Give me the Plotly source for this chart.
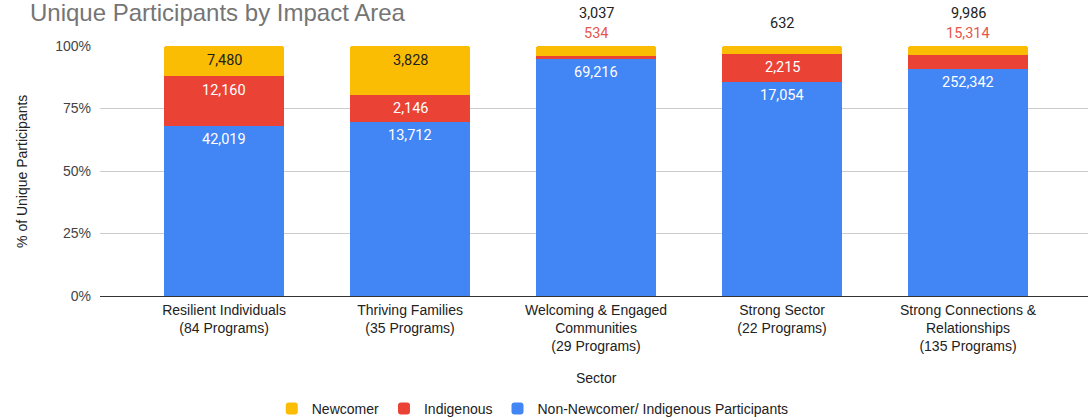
import plotly.graph_objects as go

categories = [
    "Resilient Individuals<br>(84 Programs)",
    "Thriving Families<br>(35 Programs)",
    "Welcoming & Engaged<br>Communities<br>(29 Programs)",
    "Strong Sector<br>(22 Programs)",
    "Strong Connections &<br>Relationships<br>(135 Programs)",
]
non_newcomer = [42019, 13712, 69216, 17054, 252342]
indigenous = [12160, 2146, 534, 2215, 15314]
newcomer = [7480, 3828, 3037, 632, 9986]
y_ticks = [0, 25, 50, 75, 100]
y_tick_labels = ["0%", "25%", "50%", "75%", "100%"]

BLUE, RED, YELLOW = "#4285F4", "#EA4335", "#FBBC04"
x = list(range(len(categories)))
W = 0.647
FONT = "Liberation Sans, Arial"

fig = go.Figure()
fig.add_trace(go.Bar(x=x, y=non_newcomer, name="Non-Newcomer/ Indigenous Participants",
                     marker=dict(color=BLUE, line_width=0), width=W))
fig.add_trace(go.Bar(x=x, y=indigenous, name="Indigenous",
                     marker=dict(color=RED, line_width=0), width=W))
fig.add_trace(go.Bar(x=x, y=newcomer, name="Newcomer",
                     marker=dict(color=YELLOW, line_width=0), width=W))

annotations = []
lab = dict(family="Roboto", size=14.5)
for i in range(len(categories)):
    tot = non_newcomer[i] + indigenous[i] + newcomer[i]
    p_b = non_newcomer[i] / tot * 100
    p_r = indigenous[i] / tot * 100
    p_y = newcomer[i] / tot * 100
    annotations.append(dict(x=i, y=p_b, xref="x", yref="y", text=f"{non_newcomer[i]:,}",
                            showarrow=False, yshift=-14, font=dict(**lab, color="white")))
    outside = []
    if p_r * 2.5 >= 20:
        annotations.append(dict(x=i, y=p_b + p_r, xref="x", yref="y", text=f"{indigenous[i]:,}",
                                showarrow=False, yshift=-14, font=dict(**lab, color="white")))
    else:
        outside.append((f"{indigenous[i]:,}", "#E5574C"))
    if p_y * 2.5 >= 20:
        annotations.append(dict(x=i, y=100, xref="x", yref="y", text=f"{newcomer[i]:,}",
                                showarrow=False, yshift=-14, font=dict(**lab, color="#222222")))
    else:
        outside.append((f"{newcomer[i]:,}", "#222222"))
    if len(outside) == 1:
        annotations.append(dict(x=i, y=100, xref="x", yref="y", text=outside[0][0],
                                showarrow=False, yshift=23, font=dict(**lab, color=outside[0][1])))
    elif len(outside) == 2:
        for k, (t, c) in enumerate(outside):
            annotations.append(dict(x=i, y=100, xref="x", yref="y", text=t,
                                    showarrow=False, yshift=13 + 20 * k, font=dict(**lab, color=c)))

annotations.append(dict(x=-0.0729, y=1.196, xref="paper", yref="paper", xanchor="left",
                        yanchor="top", text="Unique Participants by Impact Area", showarrow=False,
                        font=dict(family=FONT, size=24, color="#757575")))
annotations.append(dict(x=-0.079, y=0.5, xref="paper", yref="paper", textangle=-90,
                        xanchor="center", yanchor="middle",
                        text="% of Unique Participants", showarrow=False,
                        font=dict(family=FONT, size=14, color="#222222")))
annotations.append(dict(x=0.5025, y=-0.328, xref="paper", yref="paper",
                        xanchor="center", yanchor="middle",
                        text="Sector", showarrow=False,
                        font=dict(family=FONT, size=14, color="#222222")))

fig.update_layout(
    width=1089, height=420,
    margin=dict(l=100, r=1, t=46, b=124, autoexpand=False),
    barmode="stack", barnorm="percent", barcornerradius=3,
    plot_bgcolor="white", paper_bgcolor="white",
    font=dict(family=FONT, size=14, color="#222222"),
    showlegend=True,
    legend=dict(orientation="h", traceorder="reversed", x=0.438, xanchor="center",
                y=-0.452, yanchor="middle", font=dict(size=14, color="#222222")),
    annotations=annotations,
    xaxis=dict(tickmode="array", tickvals=x, ticktext=categories, range=[-0.667, 4.645],
               showgrid=False, zeroline=False, showline=False, ticks="", automargin=False,
               ticklabelstandoff=4, tickfont=dict(size=14, color="#222222")),
    yaxis=dict(range=[0, 100], tickmode="array", tickvals=y_ticks, ticktext=y_tick_labels,
               showgrid=True, gridcolor="#cccccc", gridwidth=1, zeroline=True,
               zerolinecolor="#333333", zerolinewidth=1, ticks="", ticklabelstandoff=8,
               automargin=False, tickfont=dict(size=14, color="#444444")),
)
fig.write_html("out.html", config={"displayModeBar": False},
               post_script="document.body.style.margin='0';document.body.style.overflow='hidden';")
